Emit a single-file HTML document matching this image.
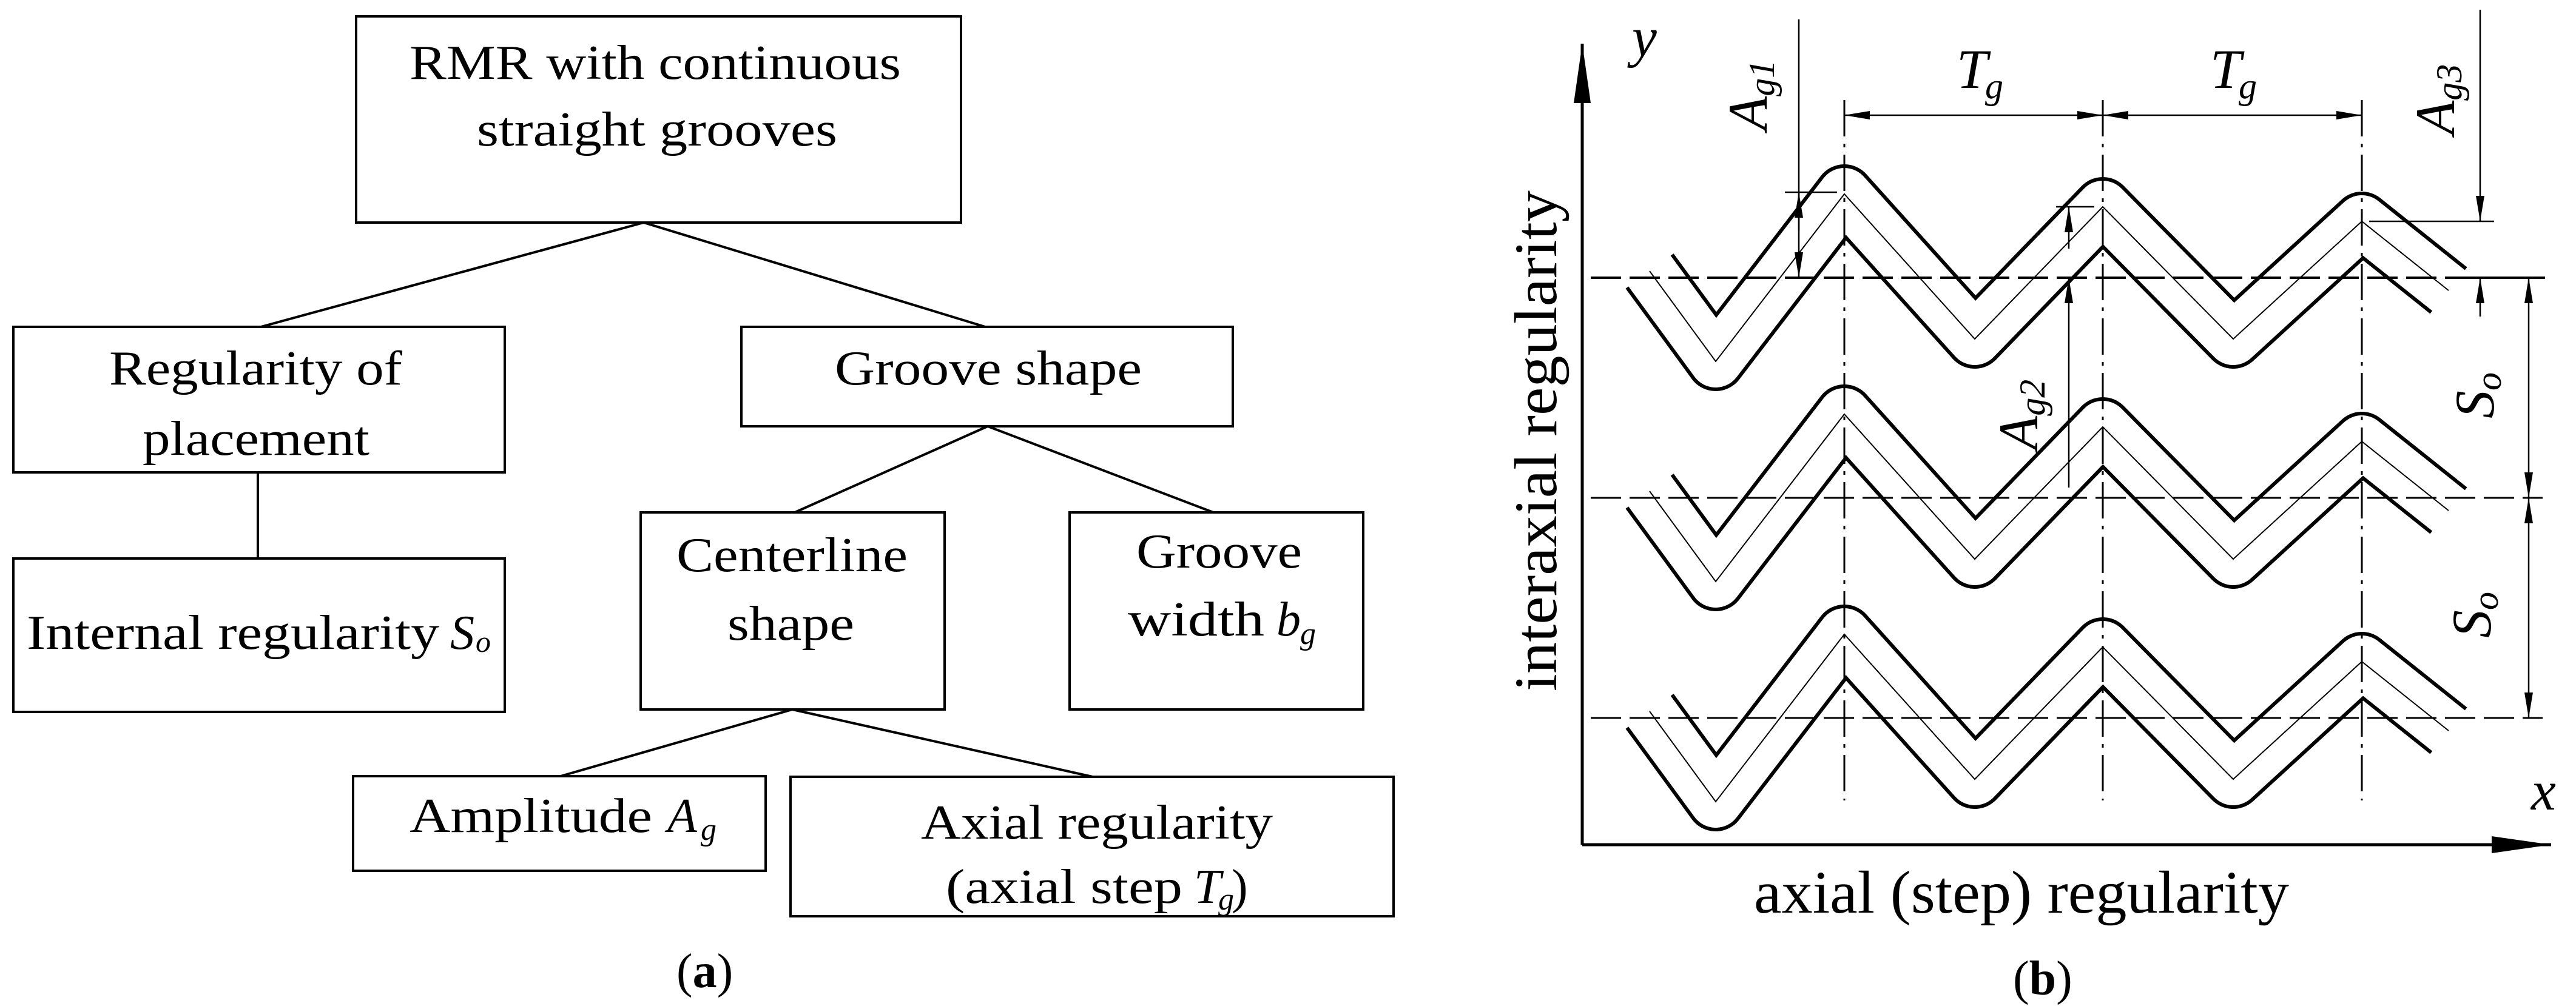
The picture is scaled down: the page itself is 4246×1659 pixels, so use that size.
<!DOCTYPE html>
<html><head><meta charset="utf-8"><style>
html,body{margin:0;padding:0;background:#fff}
svg{display:block}
text{font-family:"Liberation Serif",serif;fill:#000}
</style></head><body>
<svg width="4246" height="1659" viewBox="0 0 4246 1659" xmlns="http://www.w3.org/2000/svg">
<defs>
<marker id="ar" markerUnits="userSpaceOnUse" markerWidth="44" markerHeight="20" refX="42" refY="10" orient="auto-start-reverse">
<path d="M0,3 L42,10 L0,17 Z" fill="#000"/>
</marker>
<marker id="big" markerUnits="userSpaceOnUse" markerWidth="100" markerHeight="36" refX="98" refY="18" orient="auto">
<path d="M0,4 L98,18 L0,32 Z" fill="#000"/>
</marker>
</defs>
<!-- LEFT TREE -->
<g fill="none" stroke="#000" stroke-width="4">
<rect x="587" y="27" width="997" height="340"/>
<rect x="22" y="539" width="810" height="240"/>
<rect x="1222" y="539" width="810" height="164"/>
<rect x="22" y="921" width="810" height="253"/>
<rect x="1056" y="845" width="501" height="325"/>
<rect x="1763" y="845" width="484" height="325"/>
<rect x="582" y="1280" width="680" height="156"/>
<rect x="1303" y="1281" width="994" height="230"/>
<path d="M1061,367 L430,539 M1061,367 L1624,539 M425,779 L425,921 M1628,703 L1310,845 M1628,703 L2000,845 M1306,1170 L924,1280 M1306,1170 L1801,1281"/>
</g>
<g font-size="80">
<text x="675" y="130" textLength="810" lengthAdjust="spacingAndGlyphs">RMR with continuous</text>
<text x="786" y="240" textLength="594" lengthAdjust="spacingAndGlyphs">straight grooves</text>
<text x="180" y="634" textLength="483" lengthAdjust="spacingAndGlyphs">Regularity of</text>
<text x="235" y="750" textLength="374" lengthAdjust="spacingAndGlyphs">placement</text>
<text x="1376" y="634" textLength="506" lengthAdjust="spacingAndGlyphs">Groove shape</text>
<text x="44" y="1070" textLength="680" lengthAdjust="spacingAndGlyphs">Internal regularity</text>
<text x="742" y="1070" font-style="italic">S</text><text x="784" y="1075" font-size="50" font-style="italic">o</text>
<text x="1115" y="942" textLength="381" lengthAdjust="spacingAndGlyphs">Centerline</text>
<text x="1199" y="1055" textLength="209" lengthAdjust="spacingAndGlyphs">shape</text>
<text x="1873" y="936" textLength="273" lengthAdjust="spacingAndGlyphs">Groove</text>
<text x="1859" y="1048" textLength="225" lengthAdjust="spacingAndGlyphs">width</text>
<text x="2104" y="1048" font-style="italic">b</text><text x="2143" y="1062" font-size="52" font-style="italic">g</text>
<text x="675" y="1372" textLength="400" lengthAdjust="spacingAndGlyphs">Amplitude</text>
<text x="1100" y="1372" font-style="italic">A</text><text x="1155" y="1385" font-size="52" font-style="italic">g</text>
<text x="1518" y="1383" textLength="580" lengthAdjust="spacingAndGlyphs">Axial regularity</text>
<text x="1559" y="1489" textLength="390" lengthAdjust="spacingAndGlyphs">(axial step</text>
<text x="1968" y="1489" font-style="italic">T</text><text x="2008" y="1500" font-size="52" font-style="italic">g</text><text x="2030" y="1489">)</text>
<text x="1115" y="1628">(<tspan font-weight="bold">a</tspan>)</text>
</g>
<!-- RIGHT PANEL -->
<g stroke="#000" fill="none">
<line x1="2608" y1="1393" x2="2608" y2="72" stroke-width="5" marker-end="url(#big)"/>
<line x1="2608" y1="1393" x2="4205" y2="1393" stroke-width="5" marker-end="url(#big)"/>
</g>
<g id="row" fill="none" stroke-linejoin="round">
<polyline points="2719,447 2828,596 3040,320 3255,559 3466,341 3681,559 3893,365 4036,479" stroke="#000" stroke-width="98" stroke-linecap="butt"/>
<polyline points="2719,447 2828,596 3040,320 3255,559 3466,341 3681,559 3893,365 4036,479" stroke="#fff" stroke-width="86" stroke-linecap="square"/>
<polyline points="2719,447 2828,596 3040,320 3255,559 3466,341 3681,559 3893,365 4036,479" stroke="#000" stroke-width="2" stroke-linejoin="miter"/>
</g>
<use href="#row" y="363"/>
<use href="#row" y="726"/>
<g stroke="#000" stroke-width="3" stroke-dasharray="50,14" fill="none">
<line x1="2622" y1="458" x2="4191" y2="458" stroke-width="4"/><line x1="2622" y1="821" x2="4191" y2="821"/><line x1="2622" y1="1184" x2="4191" y2="1184"/>
</g>
<g stroke="#000" stroke-width="3" stroke-dasharray="60,12,6,12">
<line x1="3040" y1="165" x2="3040" y2="1320"/><line x1="3466" y1="165" x2="3466" y2="1320"/><line x1="3893" y1="165" x2="3893" y2="1320"/>
</g>
<!-- dimensions -->
<g stroke="#000" stroke-width="2.5" fill="none">
<line x1="3040" y1="190" x2="3466" y2="190" marker-start="url(#ar)" marker-end="url(#ar)"/>
<line x1="3466" y1="190" x2="3893" y2="190" marker-start="url(#ar)" marker-end="url(#ar)"/>
<line x1="2965" y1="32" x2="2965" y2="458" marker-end="url(#ar)"/>
<line x1="2965" y1="380" x2="2965" y2="317" marker-end="url(#ar)"/>
<line x1="2942" y1="317" x2="3028" y2="317"/>
<line x1="3410" y1="804" x2="3410" y2="458" marker-end="url(#ar)"/>
<line x1="3410" y1="410" x2="3410" y2="341" marker-end="url(#ar)"/>
<line x1="3389" y1="341" x2="3452" y2="341"/>
<line x1="4088" y1="16" x2="4088" y2="365" marker-end="url(#ar)"/>
<line x1="4088" y1="522" x2="4088" y2="458" marker-end="url(#ar)"/>
<line x1="3905" y1="365" x2="4111" y2="365"/>
<line x1="4168" y1="640" x2="4168" y2="458" marker-end="url(#ar)"/>
<line x1="4168" y1="640" x2="4168" y2="821" marker-end="url(#ar)"/>
<line x1="4168" y1="1000" x2="4168" y2="821" marker-end="url(#ar)"/>
<line x1="4168" y1="1000" x2="4168" y2="1184" marker-end="url(#ar)"/>
<line x1="4040" y1="458" x2="4195" y2="458" stroke-width="4"/>
</g>
<g font-style="italic" font-size="92">
<text x="2690" y="92">y</text>
<text x="4172" y="1335">x</text>
<text x="3225" y="145">T</text><text x="3272" y="162" font-size="60">g</text>
<text x="3643" y="145">T</text><text x="3690" y="162" font-size="60">g</text>
<text transform="translate(2912,215) rotate(-90)">A<tspan font-size="60" dy="12">g1</tspan></text>
<text transform="translate(3358,742) rotate(-90)">A<tspan font-size="60" dy="12">g2</tspan></text>
<text transform="translate(4045,222) rotate(-90)">A<tspan font-size="60" dy="12">g3</tspan></text>
<text transform="translate(4110,690) rotate(-90)">S<tspan font-size="60" dy="12">o</tspan></text>
<text transform="translate(4105,1052) rotate(-90)">S<tspan font-size="60" dy="12">o</tspan></text>
</g>
<text transform="translate(2565,1140) rotate(-90)" font-size="100" textLength="826" lengthAdjust="spacingAndGlyphs">interaxial regularity</text>
<text x="2891" y="1505" font-size="100" textLength="882" lengthAdjust="spacingAndGlyphs">axial (step) regularity</text>
<text x="3318" y="1640" font-size="80">(<tspan font-weight="bold">b</tspan>)</text>
</svg>
</body></html>
